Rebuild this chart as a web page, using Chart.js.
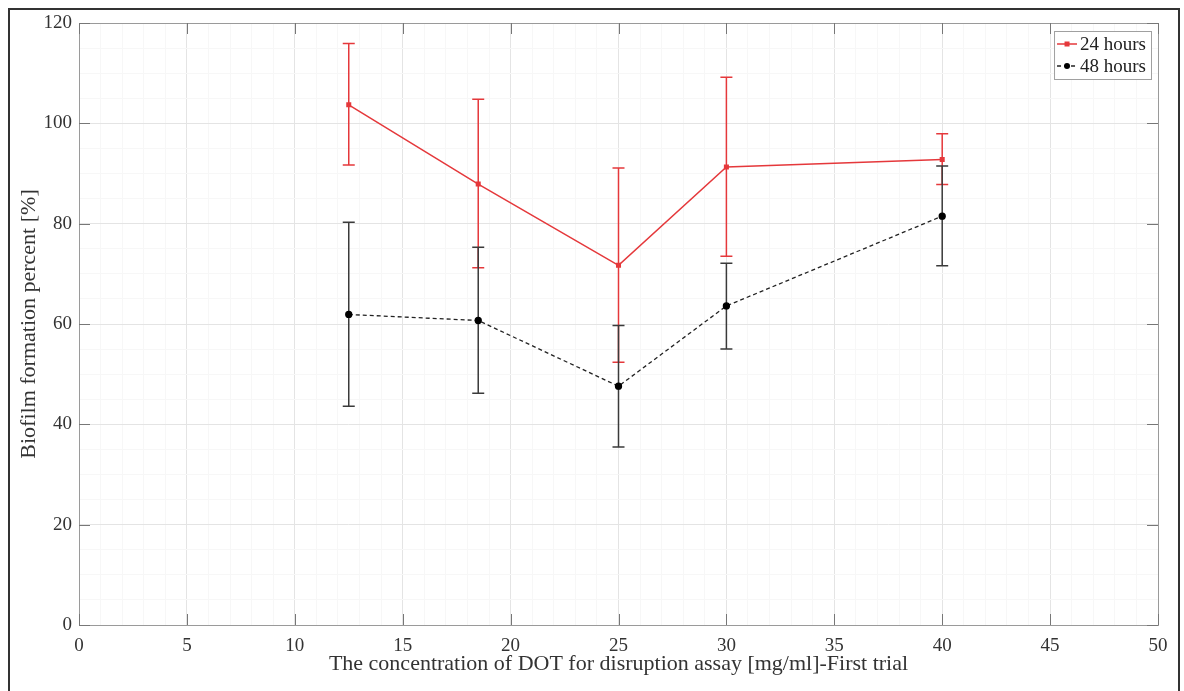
<!DOCTYPE html>
<html>
<head>
<meta charset="utf-8">
<script src="https://cdn.jsdelivr.net/npm/chart.js@4.4.1/dist/chart.umd.min.js"></script>
<style>
  html, body { margin: 0; padding: 0; background: #fff; }
  #wrap { width: 1184px; height: 691px; }
</style>
</head>
<body>
<div id="wrap"><canvas id="chart"></canvas></div>
<script>
// Data
const concentrations = [12.5, 18.5, 25, 30, 40];

const mean24 = [103.7, 87.9, 71.7, 91.3, 92.8];
const upper24 = [115.9, 104.8, 91.1, 109.2, 97.9];
const lower24 = [91.7, 71.2, 52.4, 73.5, 87.8];

const mean48 = [61.9, 60.7, 47.6, 63.6, 81.5];
const upper48 = [80.3, 75.3, 59.7, 72.1, 91.5];
const lower48 = [43.6, 46.2, 35.5, 55.0, 71.6];

const xTicks = [0, 5, 10, 15, 20, 25, 30, 35, 40, 45, 50];
const yTicks = [0, 20, 40, 60, 80, 100, 120];

const RED = "#e5383b";
const BLACK = "#222";
const FONT = "'Liberation Serif', 'Times New Roman', serif";

const $ = id => document.getElementById(id);

// error bars, drawn under the markers
const errorBars = {
  id: "errorBars",
  beforeDatasetsDraw(chart) {
    const { ctx, scales: { x, y } } = chart;
    const sets = [
      { up: upper24, lo: lower24, color: RED },
      { up: upper48, lo: lower48, color: "#3a3a3a" }
    ];
    ctx.save();
    ctx.lineWidth = 1.5;
    sets.forEach(s => {
      ctx.strokeStyle = s.color;
      concentrations.forEach((c, i) => {
        const px = x.getPixelForValue(c);
        const yt = y.getPixelForValue(s.up[i]);
        const yb = y.getPixelForValue(s.lo[i]);
        ctx.beginPath();
        ctx.moveTo(px, yt); ctx.lineTo(px, yb);
        ctx.moveTo(px - 6, yt); ctx.lineTo(px + 6, yt);
        ctx.moveTo(px - 6, yb); ctx.lineTo(px + 6, yb);
        ctx.stroke();
      });
    });
    ctx.restore();
  }
};

// axes box, inward ticks, outer frame and the legend
const frame = {
  id: "frame",
  beforeDraw(chart) {
    const ctx = chart.ctx;
    ctx.save();
    ctx.fillStyle = "#fff";
    ctx.fillRect(0, 0, chart.width, chart.height);
    ctx.restore();
  },
  afterDraw(chart) {
    const { ctx, chartArea: a, scales: { x, y } } = chart;
    ctx.save();
    // plot box
    ctx.strokeStyle = "#9a9a9a";
    ctx.lineWidth = 1;
    ctx.strokeRect(a.left + 0.5, a.top + 0.5, a.right - a.left, a.bottom - a.top);
    // inward tick marks
    ctx.strokeStyle = "#777";
    ctx.beginPath();
    xTicks.forEach(v => {
      const px = Math.round(x.getPixelForValue(v)) + 0.5;
      ctx.moveTo(px, a.bottom); ctx.lineTo(px, a.bottom - 11);
      ctx.moveTo(px, a.top); ctx.lineTo(px, a.top + 11);
    });
    yTicks.forEach(v => {
      const py = Math.round(y.getPixelForValue(v)) + 0.5;
      ctx.moveTo(a.left, py); ctx.lineTo(a.left + 11, py);
      ctx.moveTo(a.right, py); ctx.lineTo(a.right - 11, py);
    });
    ctx.stroke();

    // outer figure frame
    ctx.strokeStyle = "#333";
    ctx.lineWidth = 2;
    ctx.strokeRect(9, 9, 1170, 700);

    // legend box in the top right corner
    ctx.font = "19px " + FONT;
    const items = chart.data.datasets;
    const textW = Math.max(...items.map(d => ctx.measureText(d.label).width));
    const boxW = 26 + textW + 5;
    const boxH = 48;
    const bx = a.right - 7 - boxW;
    const by = a.top + 8;
    ctx.fillStyle = "#fff";
    ctx.fillRect(bx, by, boxW, boxH);
    ctx.strokeStyle = "#a0a0a0";
    ctx.lineWidth = 1;
    ctx.strokeRect(bx + 0.5, by + 0.5, boxW, boxH);
    items.forEach((d, i) => {
      const cy = by + 13 + i * 22;
      ctx.strokeStyle = d.borderColor;
      ctx.lineWidth = d.borderWidth;
      ctx.setLineDash(d.borderDash || []);
      ctx.beginPath();
      ctx.moveTo(bx + 3, cy); ctx.lineTo(bx + 23, cy);
      ctx.stroke();
      ctx.setLineDash([]);
      ctx.fillStyle = d.pointBackgroundColor;
      if (d.pointStyle === "rect") {
        ctx.fillRect(bx + 13 - 2.5, cy - 2.5, 5, 5);
      } else {
        ctx.beginPath();
        ctx.arc(bx + 13, cy, 3, 0, Math.PI * 2);
        ctx.fill();
      }
      ctx.fillStyle = "#222";
      ctx.textBaseline = "middle";
      ctx.fillText(d.label, bx + 26, cy + 1);
    });
    ctx.restore();
  }
};

const gridColor = ctx => {
  const v = ctx.tick ? ctx.tick.value : 0;
  return ctx.scale.axis === "x"
    ? (xTicks.includes(v) ? "#e4e4e4" : "#f7f7f7")
    : (yTicks.includes(v) ? "#e4e4e4" : "#f7f7f7");
};

new Chart($("chart"), {
  type: "line",
  data: {
    datasets: [
      {
        label: "24 hours",
        data: concentrations.map((c, i) => ({ x: c, y: mean24[i] })),
        borderColor: RED,
        backgroundColor: RED,
        pointBackgroundColor: RED,
        pointBorderColor: RED,
        pointStyle: "rect",
        pointRadius: 2.5,
        borderWidth: 1.5,
        tension: 0
      },
      {
        label: "48 hours",
        data: concentrations.map((c, i) => ({ x: c, y: mean48[i] })),
        borderColor: BLACK,
        backgroundColor: BLACK,
        pointBackgroundColor: "#000",
        pointBorderColor: "#000",
        pointStyle: "circle",
        pointRadius: 3,
        borderWidth: 1.3,
        borderDash: [4, 3],
        tension: 0
      }
    ]
  },
  options: {
    responsive: true,
    maintainAspectRatio: false,
    animation: false,
    layout: { padding: { top: 23, right: 26, left: 8, bottom: 10 } },
    plugins: { legend: { display: false }, tooltip: { enabled: false } },
    scales: {
      x: {
        type: "linear",
        min: 0, max: 50,
        border: { display: false },
        grid: { color: gridColor, drawTicks: false },
        ticks: {
          stepSize: 1, autoSkip: false, maxTicksLimit: 100, maxRotation: 0,
          padding: 10, color: "#333",
          font: { family: FONT, size: 19 },
          callback: v => xTicks.includes(v) ? v : ""
        },
        title: {
          display: true,
          text: "The concentration of DOT for disruption assay [mg/ml]-First trial",
          color: "#333",
          font: { family: FONT, size: 22 },
          padding: { top: 2, bottom: 4 }
        },
        afterFit: s => { s.height = 56; }
      },
      y: {
        min: 0, max: 120,
        border: { display: false },
        grid: { color: gridColor, drawTicks: false },
        ticks: {
          stepSize: 5, autoSkip: false, maxTicksLimit: 100,
          padding: 7, color: "#333",
          font: { family: FONT, size: 19 },
          callback: v => yTicks.includes(v) ? v : ""
        },
        title: {
          display: true,
          text: "Biofilm formation percent [%]",
          color: "#333",
          font: { family: FONT, size: 22 },
          padding: { top: 8, bottom: 4 }
        },
        afterFit: s => { s.width = 71; }
      }
    }
  },
  plugins: [errorBars, frame]
});
</script>
</body>
</html>
